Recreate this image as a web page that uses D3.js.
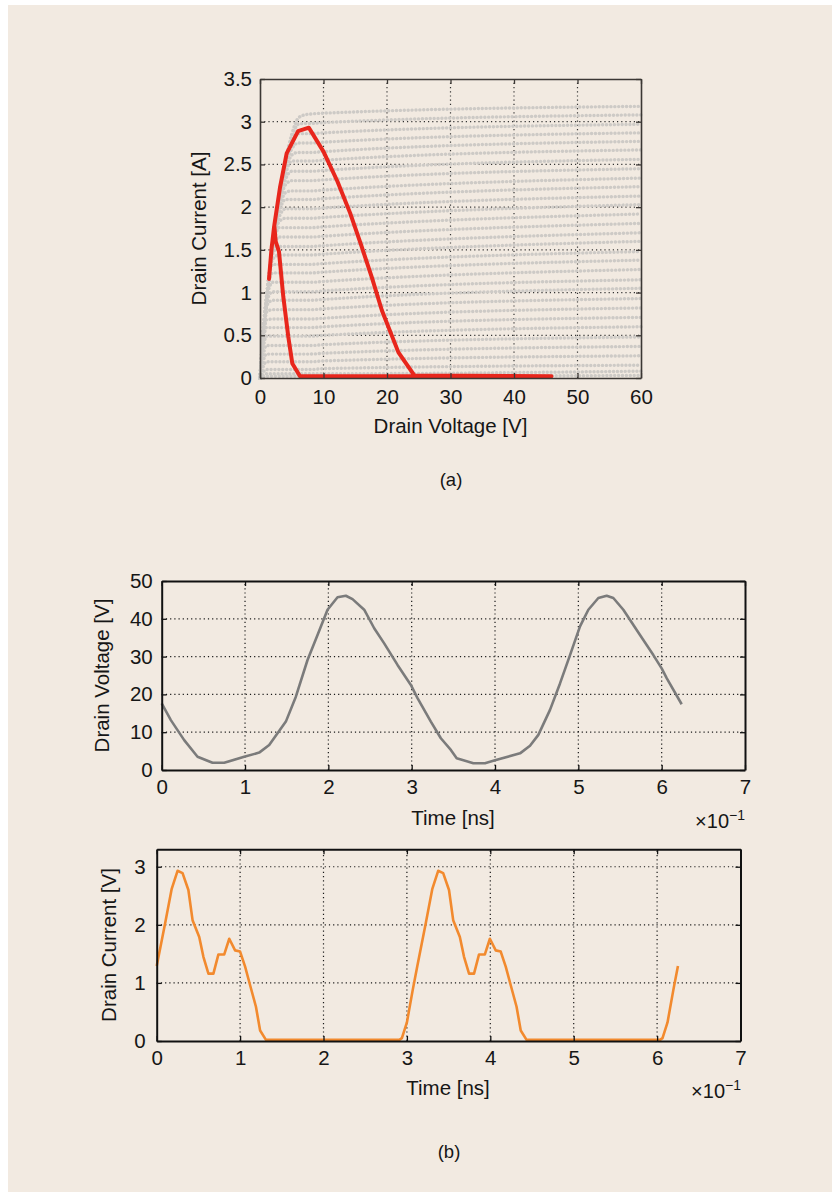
<!DOCTYPE html>
<html>
<head>
<meta charset="utf-8">
<script src="https://cdn.jsdelivr.net/npm/d3@7"></script>
<style>
  body { margin: 0; background: #fff; }
  svg text { font-family: "Liberation Sans", Arial, sans-serif; }
</style>
</head>
<body>
<svg id="fig" width="838" height="1192"></svg>
<script>
// ---- (a) I-V family: drain current [A] at each drain voltage of ivVoltage
const ivVoltage = [0, 1, 2, 3, 4, 5, 6, 7, 8, 10, 60];
const ivCurves = [
  [0, 0.82, 1.52, 2.09, 2.53, 2.85, 3.04, 3.08, 3.09, 3.10, 3.18],
  [0, 0.84, 1.54, 2.10, 2.53, 2.81, 2.97, 2.98, 2.98, 2.99, 3.08],
  [0, 0.84, 1.53, 2.08, 2.49, 2.75, 2.86, 2.86, 2.86, 2.87, 2.97],
  [0, 0.84, 1.53, 2.07, 2.45, 2.68, 2.75, 2.75, 2.75, 2.76, 2.87],
  [0, 0.85, 1.53, 2.06, 2.41, 2.61, 2.64, 2.64, 2.64, 2.65, 2.77],
  [0, 0.86, 1.54, 2.05, 2.38, 2.54, 2.54, 2.54, 2.54, 2.55, 2.67],
  [0, 0.86, 1.53, 2.02, 2.32, 2.42, 2.42, 2.42, 2.42, 2.43, 2.56],
  [0, 0.87, 1.53, 1.99, 2.26, 2.31, 2.31, 2.31, 2.31, 2.32, 2.45],
  [0, 0.87, 1.52, 1.96, 2.17, 2.19, 2.19, 2.19, 2.19, 2.20, 2.34],
  [0, 0.88, 1.52, 1.93, 2.09, 2.09, 2.09, 2.09, 2.09, 2.10, 2.24],
  [0, 0.89, 1.52, 1.88, 1.98, 1.98, 1.98, 1.98, 1.98, 1.99, 2.13],
  [0, 0.90, 1.51, 1.83, 1.87, 1.87, 1.87, 1.87, 1.87, 1.88, 2.03],
  [0, 0.91, 1.50, 1.76, 1.76, 1.76, 1.76, 1.76, 1.76, 1.77, 1.92],
  [0, 0.92, 1.48, 1.65, 1.65, 1.65, 1.65, 1.65, 1.65, 1.66, 1.81],
  [0, 0.93, 1.45, 1.54, 1.54, 1.54, 1.54, 1.54, 1.54, 1.55, 1.70],
  [0, 0.93, 1.39, 1.44, 1.44, 1.44, 1.44, 1.44, 1.44, 1.45, 1.60],
  [0, 0.94, 1.33, 1.33, 1.33, 1.33, 1.33, 1.33, 1.33, 1.34, 1.48],
  [0, 0.93, 1.23, 1.23, 1.23, 1.23, 1.23, 1.23, 1.23, 1.24, 1.38],
  [0, 0.91, 1.12, 1.12, 1.12, 1.12, 1.12, 1.12, 1.12, 1.13, 1.27],
  [0, 0.88, 1.01, 1.01, 1.01, 1.01, 1.01, 1.01, 1.01, 1.02, 1.15],
  [0, 0.84, 0.91, 0.91, 0.91, 0.91, 0.91, 0.91, 0.91, 0.92, 1.05],
  [0, 0.77, 0.80, 0.80, 0.80, 0.80, 0.80, 0.80, 0.80, 0.81, 0.93],
  [0, 0.68, 0.69, 0.69, 0.69, 0.69, 0.69, 0.69, 0.69, 0.70, 0.82],
  [0, 0.59, 0.59, 0.59, 0.59, 0.59, 0.59, 0.59, 0.59, 0.60, 0.71],
  [0, 0.49, 0.49, 0.49, 0.49, 0.49, 0.49, 0.49, 0.49, 0.50, 0.60],
  [0, 0.38, 0.38, 0.38, 0.38, 0.38, 0.38, 0.38, 0.38, 0.39, 0.48],
  [0, 0.28, 0.28, 0.28, 0.28, 0.28, 0.28, 0.28, 0.28, 0.29, 0.37],
  [0, 0.19, 0.19, 0.19, 0.19, 0.19, 0.19, 0.19, 0.19, 0.20, 0.26],
  [0, 0.10, 0.10, 0.10, 0.10, 0.10, 0.10, 0.10, 0.10, 0.11, 0.15],
  [0, 0.05, 0.05, 0.05, 0.05, 0.05, 0.05, 0.05, 0.05, 0.05, 0.08],
  [0, 0.02, 0.02, 0.02, 0.02, 0.02, 0.02, 0.02, 0.02, 0.02, 0.03]
];

// load trajectory (red)
const loadV = [45.9, 24.3, 21.8, 19.2, 17.6, 16.0, 14.2, 12.2, 10.0, 7.7, 6.0, 4.2, 3.15, 2.2, 1.8, 1.42,
               1.84, 2.26, 2.47, 2.99, 3.67, 4.46, 5.09, 6.3, 45.9];
const loadI = [0.02, 0.03, 0.30, 0.79, 1.18, 1.54, 1.93, 2.30, 2.65, 2.93, 2.89, 2.63, 2.23, 1.76, 1.50, 1.16,
               1.53, 1.78, 1.60, 1.48, 0.95, 0.48, 0.17, 0.02, 0.02];

const ivXTicks = [0, 10, 20, 30, 40, 50, 60];
const ivYTicks = [0, 0.5, 1, 1.5, 2, 2.5, 3, 3.5];

// ---- (b) waveforms, time in units of 1e-1 ns
const timeV = [0, 0.11, 0.27, 0.43, 0.61, 0.75, 0.99, 1.17, 1.29, 1.49, 1.61, 1.75, 1.87, 1.99, 2.11, 2.21,
               2.29, 2.43, 2.55, 2.67, 2.83, 2.99, 3.07, 3.23, 3.35, 3.47, 3.54, 3.74, 3.88, 4.0, 4.3, 4.42,
               4.52, 4.66, 4.78, 4.9, 5.02, 5.12, 5.24, 5.34, 5.42, 5.54, 5.74, 5.9, 6.0, 6.06, 6.24];
const drainV = [17.6, 13.2, 7.9, 3.5, 1.9, 1.9, 3.5, 4.6, 6.6, 12.8, 19.4, 29.1, 35.7, 42.4, 45.7, 46.1,
                45.2, 42.4, 37.5, 33.5, 27.8, 22.5, 19.0, 12.8, 8.4, 5.3, 3.1, 1.8, 1.8, 2.6, 4.4, 6.4,
                9.3, 15.9, 22.9, 30.4, 38.0, 42.4, 45.5, 46.1, 45.5, 42.4, 35.7, 30.4, 26.9, 24.3, 17.4];

const timeI = [0, 0.10, 0.18, 0.25, 0.31, 0.38, 0.43, 0.51, 0.56, 0.62, 0.68, 0.74, 0.81, 0.87, 0.94, 1.0,
               1.06, 1.12, 1.19, 1.24, 1.31, 2.91, 2.94, 3.0, 3.07, 3.125, 3.225, 3.305, 3.375, 3.435, 3.505,
               3.555, 3.635, 3.685, 3.745, 3.805, 3.865, 3.935, 3.995, 4.065, 4.125, 4.185, 4.245, 4.315,
               4.365, 4.435, 6.035, 6.065, 6.125, 6.195, 6.25];
const drainI = [1.29, 2.02, 2.62, 2.93, 2.89, 2.60, 2.08, 1.79, 1.45, 1.16, 1.16, 1.49, 1.49, 1.76, 1.56, 1.54,
                1.28, 0.96, 0.59, 0.18, 0.02, 0.02, 0.05, 0.32, 0.88, 1.29, 2.02, 2.62, 2.93, 2.89, 2.60,
                2.08, 1.79, 1.45, 1.16, 1.16, 1.49, 1.49, 1.76, 1.56, 1.54, 1.28, 0.96, 0.59,
                0.18, 0.02, 0.02, 0.05, 0.32, 0.88, 1.29];

const timeTicks = [0, 1, 2, 3, 4, 5, 6, 7];
const voltTicks = [0, 10, 20, 30, 40, 50];
const currTicks = [0, 1, 2, 3];

const FONT = '"Liberation Sans", Arial, sans-serif';
const TXT = 20.5;
const svg = d3.select('#fig');

svg.append('rect')
  .attr('x', 8).attr('y', 5).attr('width', 824).attr('height', 1187)
  .attr('fill', '#f2eae1');

// dotted grid inside a plot
function drawGrid(g, x, y, xTicks, yTicks, color) {
  const [x0, x1] = x.range(), [y0, y1] = y.range();

  g.append('g').selectAll('line')
    .data(xTicks.filter(d => x(d) > x0 + 1 && x(d) < x1 - 1))
    .join('line')
    .attr('x1', d => x(d)).attr('x2', d => x(d))
    .attr('y1', y0).attr('y2', y1)
    .attr('stroke', color).attr('stroke-width', 1.2)
    .attr('stroke-dasharray', '1.2,3');
  g.append('g').selectAll('line')
    .data(yTicks.filter(d => y(d) < y0 - 1 && y(d) > y1 + 1))
    .join('line')
    .attr('y1', d => y(d)).attr('y2', d => y(d))
    .attr('x1', x0).attr('x2', x1)
    .attr('stroke', color).attr('stroke-width', 1.2)
    .attr('stroke-dasharray', '1.2,3');
}

// frame with inward ticks on four sides, labels on bottom and left
function drawAxes(g, x, y, xTicks, yTicks, o) {
  const [x0, x1] = x.range(), [y0, y1] = y.range();
  const fmt = d => String(d);
  const style = sel => {
    sel.attr('font-family', FONT).attr('font-size', TXT).attr('color', o.frameColor);
    sel.select('.domain').attr('stroke-width', o.frameWidth);
    sel.selectAll('.tick line').attr('stroke-width', 1.3);
    sel.selectAll('.tick text').attr('fill', '#161616');
  };
  g.append('g').attr('transform', `translate(0,${y0})`)
    .call(d3.axisBottom(x).tickValues(xTicks).tickFormat(fmt).tickSize(-5).tickSizeOuter(0).tickPadding(o.xPad))
    .call(style);
  g.append('g').attr('transform', `translate(0,${y1})`)
    .call(d3.axisTop(x).tickValues(xTicks).tickSize(-5).tickSizeOuter(0).tickFormat(''))
    .call(style);
  g.append('g').attr('transform', `translate(${x0},0)`)
    .call(d3.axisLeft(y).tickValues(yTicks).tickFormat(fmt).tickSize(-5).tickSizeOuter(0).tickPadding(o.yPad))
    .call(style);
  g.append('g').attr('transform', `translate(${x1},0)`)
    .call(d3.axisRight(y).tickValues(yTicks).tickSize(-5).tickSizeOuter(0).tickFormat(''))
    .call(style);
}

function label(txt, x, y, size, rotate) {
  return svg.append('text')
    .attr('transform', `translate(${x},${y})` + (rotate ? ' rotate(-90)' : ''))
    .attr('text-anchor', 'middle')
    .attr('font-size', size)
    .attr('fill', '#161616')
    .text(txt);
}

function scaleNote(xRight, y) {
  const t = svg.append('text')
    .attr('x', xRight).attr('y', y)
    .attr('text-anchor', 'end')
    .attr('font-size', 20).attr('fill', '#161616');
  t.append('tspan').text('×10');
  t.append('tspan').attr('dy', -8).attr('font-size', 14).text('−1');
}

// ---------------- (a)
const ivX = d3.scaleLinear().domain([0, 60]).range([260, 641]);
const ivY = d3.scaleLinear().domain([0, 3.5]).range([378, 79]);
const gA = svg.append('g');

drawGrid(gA, ivX, ivY, ivXTicks, ivYTicks, '#333');

const ivLine = d3.line()
  .x((d, i) => ivX(ivVoltage[i]))
  .y(d => ivY(d))
  .curve(d3.curveMonotoneX);

gA.append('g').selectAll('path')
  .data(ivCurves)
  .join('path')
  .attr('d', ivLine)
  .attr('fill', 'none')
  .attr('stroke', '#cdcac6')
  .attr('stroke-width', 3.4)
  .attr('stroke-linecap', 'round')
  .attr('stroke-dasharray', '0.1,3.8');

gA.append('path')
  .datum(loadV.map((v, i) => [v, loadI[i]]))
  .attr('d', d3.line().x(d => ivX(d[0])).y(d => ivY(d[1])))
  .attr('fill', 'none')
  .attr('stroke', '#e8261c')
  .attr('stroke-width', 4)
  .attr('stroke-linejoin', 'round')
  .attr('stroke-linecap', 'round');

drawAxes(gA, ivX, ivY, ivXTicks, ivYTicks, { frameColor: '#3b3734', frameWidth: 1.6, xPad: 11, yPad: 8 });
label('Drain Voltage [V]', 450.5, 433, TXT);
label('Drain Current [A]', 206, 228.5, TXT, true);
label('(a)', 451, 486, 18.5);

// ---------------- (b) upper: drain voltage
const tX1 = d3.scaleLinear().domain([0, 7]).range([161.7, 745]);
const vY = d3.scaleLinear().domain([0, 50]).range([770, 581]);
const gB1 = svg.append('g');

drawGrid(gB1, tX1, vY, timeTicks, voltTicks, '#1a1a1a');
gB1.append('path')
  .datum(timeV.map((t, i) => [t, drainV[i]]))
  .attr('d', d3.line().x(d => tX1(d[0])).y(d => vY(d[1])))
  .attr('fill', 'none')
  .attr('stroke', '#7b7b7b')
  .attr('stroke-width', 2.6)
  .attr('stroke-linejoin', 'round');
drawAxes(gB1, tX1, vY, timeTicks, voltTicks, { frameColor: '#111', frameWidth: 2, xPad: 9, yPad: 9 });
label('Time [ns]', 453, 825, TXT);
label('Drain Voltage [V]', 109, 675.5, TXT, true);
scaleNote(745, 828);

// ---------------- (b) lower: drain current
const tX2 = d3.scaleLinear().domain([0, 7]).range([156.7, 740.5]);
const iY = d3.scaleLinear().domain([0, 3.3]).range([1041, 849.3]);
const gB2 = svg.append('g');

drawGrid(gB2, tX2, iY, timeTicks, currTicks, '#1a1a1a');
gB2.append('path')
  .datum(timeI.map((t, i) => [t, drainI[i]]))
  .attr('d', d3.line().x(d => tX2(d[0])).y(d => iY(d[1])))
  .attr('fill', 'none')
  .attr('stroke', '#f28a2e')
  .attr('stroke-width', 2.6)
  .attr('stroke-linejoin', 'round');
drawAxes(gB2, tX2, iY, timeTicks, currTicks, { frameColor: '#111', frameWidth: 2, xPad: 9, yPad: 11 });
label('Time [ns]', 448, 1095, TXT);
label('Drain Current [V]', 116, 945, TXT, true);
scaleNote(741, 1098);

label('(b)', 449, 1158, 18.5);
</script>
</body>
</html>
